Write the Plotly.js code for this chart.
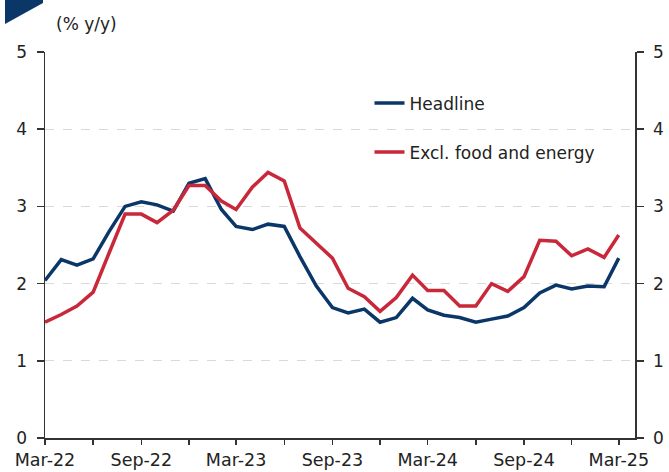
<!DOCTYPE html>
<html>
<head>
<meta charset="utf-8">
<script src="https://cdn.plot.ly/plotly-3.0.1.min.js"></script>
<style>html,body{margin:0;padding:0;background:#fff;}#chart{width:669px;height:472px;}</style>
</head>
<body>
<div id="chart"></div>
<script>
// Months Mar-22 .. Mar-25
const months = [
 '2022-03-01','2022-04-01','2022-05-01','2022-06-01','2022-07-01','2022-08-01','2022-09-01','2022-10-01','2022-11-01','2022-12-01',
 '2023-01-01','2023-02-01','2023-03-01','2023-04-01','2023-05-01','2023-06-01','2023-07-01','2023-08-01','2023-09-01','2023-10-01',
 '2023-11-01','2023-12-01','2024-01-01','2024-02-01','2024-03-01','2024-04-01','2024-05-01','2024-06-01','2024-07-01','2024-08-01',
 '2024-09-01','2024-10-01','2024-11-01','2024-12-01','2025-01-01','2025-02-01','2025-03-01'
];
const headline = [2.04,2.31,2.24,2.32,2.67,3.00,3.06,3.02,2.94,3.30,
 3.36,2.96,2.74,2.70,2.77,2.74,2.35,1.97,1.69,1.62,
 1.67,1.50,1.56,1.81,1.66,1.59,1.56,1.50,1.54,1.58,
 1.69,1.88,1.98,1.93,1.97,1.96,2.33];
const exclFoodEnergy = [1.50,1.60,1.71,1.89,2.39,2.90,2.90,2.79,2.95,3.27,
 3.27,3.07,2.96,3.25,3.44,3.33,2.72,2.52,2.33,1.94,
 1.83,1.64,1.82,2.11,1.91,1.91,1.71,1.71,2.00,1.90,
 2.09,2.56,2.55,2.36,2.45,2.34,2.63];
const seriesNames = ['Headline','Excl. food and energy'];
const tickVals = ['2022-03-01','2022-06-01','2022-09-01','2022-12-01','2023-03-01','2023-06-01','2023-09-01','2023-12-01',
 '2024-03-01','2024-06-01','2024-09-01','2024-12-01','2025-03-01'];
const tickText = ['Mar-22','','Sep-22','','Mar-23','','Sep-23','','Mar-24','','Sep-24','','Mar-25'];
const yTicks = [0,1,2,3,4,5];

const NAVY = '#0b3768', RED = '#c8283a';
const FONT = 'DejaVu Sans, sans-serif';

const traces = [
 {x: months, y: headline, name: seriesNames[0], type: 'scatter', mode: 'lines',
  line: {color: NAVY, width: 3.5}, legendgroup: 'a'},
 {x: months, y: exclFoodEnergy, name: seriesNames[1], type: 'scatter', mode: 'lines',
  line: {color: RED, width: 3.5}, legendgroup: 'b'},
 // carrier for the mirrored right-hand axis (draws nothing)
 {x: [months[0]], y: [null], yaxis: 'y2', type: 'scatter', mode: 'lines', showlegend: false, hoverinfo: 'skip'}
];

const axisCommon = {
 range: [0,5], tickvals: yTicks, ticks: 'outside', ticklen: 7, tickwidth: 1.5, tickcolor: '#333',
 showline: true, linecolor: '#333', linewidth: 1.5, zeroline: false, ticklabelstandoff: 6,
 tickfont: {family: FONT, size: 17, color: '#222'}, fixedrange: true
};

const layout = {
 width: 669, height: 472,
 margin: {l: 45, r: 34, t: 52, b: 34},
 paper_bgcolor: '#fff', plot_bgcolor: '#fff',
 showlegend: true,
 legend: {x: 0.55, xanchor: 'left', y: 0.9135, yanchor: 'top', bgcolor: 'rgba(0,0,0,0)',
  font: {family: FONT, size: 17, color: '#222'}, traceorder: 'grouped', tracegroupgap: 24},
 xaxis: {type: 'date', range: ['2022-03-01','2025-04-01'], tickvals: tickVals, ticktext: tickText,
  ticks: 'outside', ticklen: 5, tickwidth: 1.5, tickcolor: '#333', showline: true, linecolor: '#333', linewidth: 1.5,
  showgrid: false, zeroline: false, tickfont: {family: FONT, size: 17.5, color: '#222'}},
 yaxis: Object.assign({}, axisCommon, {side: 'left', showgrid: true, gridcolor: '#d9d9d9', gridwidth: 1, griddash: 'dash'}),
 yaxis2: Object.assign({}, axisCommon, {side: 'right', overlaying: 'y', showgrid: false, anchor: 'x'}),
 annotations: [{text: '(% y/y)', xref: 'paper', yref: 'paper', x: 0.016, y: 1.073, xanchor: 'left', yanchor: 'middle',
  showarrow: false, font: {family: FONT, size: 17, color: '#222'}}],
 shapes: [{type: 'path', xref: 'paper', yref: 'paper',
  path: 'M -0.0678,1.14 L -0.0034,1.14 L -0.0034,1.127 L -0.0678,1.0726 Z',
  fillcolor: NAVY, line: {width: 0}}]
};

Plotly.newPlot('chart', traces, layout, {staticPlot: true, displayModeBar: false});
</script>
</body>
</html>
